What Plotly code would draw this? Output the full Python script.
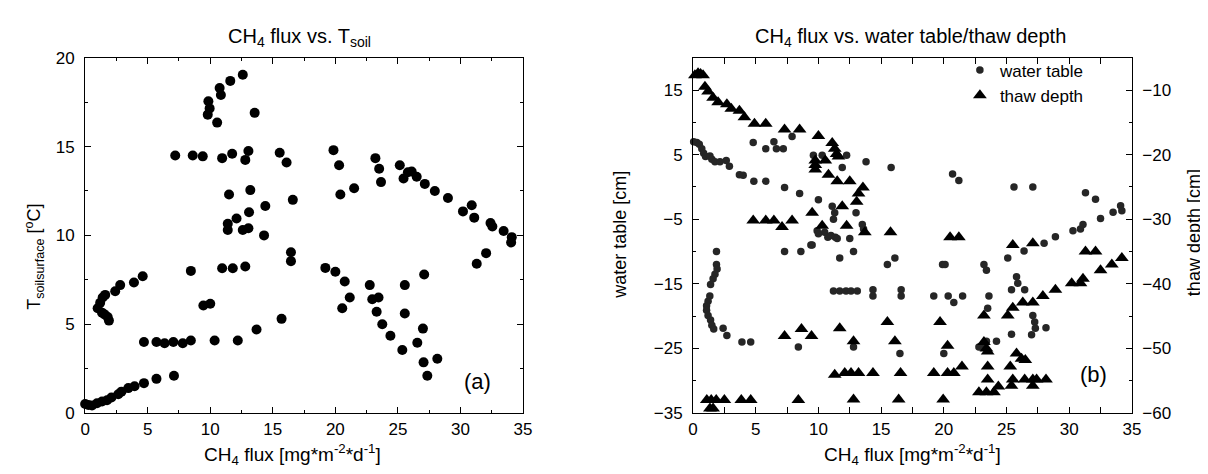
import plotly.graph_objects as go

# ---------------- Panel (a): CH4 flux vs. T_soil ----------------
soil_flux = [0.0, 0.25, 0.55, 0.95, 1.35, 1.75, 2.1, 2.65, 2.9, 3.45, 3.95, 4.7, 5.7, 7.1,
             1.0, 1.2, 1.4, 1.6, 1.35, 1.55, 1.8, 1.9, 2.4, 2.8, 3.9, 4.6,
             4.7, 5.7, 6.35, 7.05, 7.8, 8.45, 10.35, 12.2, 13.7, 15.7, 9.45, 10.0,
             8.45, 10.95, 11.8, 12.8, 16.45, 16.45, 19.2, 20.0, 20.75, 21.15, 20.55,
             22.75, 22.95, 23.45, 23.3, 23.75, 24.4, 25.55, 25.55, 25.35, 27.1, 27.0,
             26.55, 27.05, 27.35, 28.15,
             11.5, 13.2, 16.6, 14.4, 13.1, 12.1, 11.4, 11.4, 12.6, 13.05, 14.3,
             7.2, 8.6, 9.4, 10.95, 11.75, 12.8, 13.05, 15.55, 16.1, 19.85, 20.3, 20.4,
             21.5, 23.2, 23.5, 23.65, 25.15, 25.45, 25.8, 26.1, 26.5, 27.15, 27.95,
             29.0, 30.2, 30.9, 31.1, 32.4, 32.55, 33.45, 34.1, 34.05, 32.05, 31.3,
             9.85, 9.95, 9.8, 10.55, 10.75, 10.85, 11.6, 12.6, 13.55]
soil_temp = [0.5, 0.45, 0.42, 0.55, 0.65, 0.72, 0.87, 1.05, 1.2, 1.4, 1.5, 1.68, 1.92, 2.1,
             5.9, 6.2, 6.5, 6.65, 5.65, 5.55, 5.4, 5.2, 6.85, 7.2, 7.35, 7.7,
             4.0, 4.0, 3.93, 4.0, 3.93, 4.08, 4.08, 4.08, 4.7, 5.3, 6.05, 6.15,
             8.0, 8.15, 8.15, 8.25, 9.05, 8.55, 8.17, 7.95, 7.4, 6.5, 5.9,
             7.2, 6.4, 6.5, 5.7, 5.0, 4.35, 7.2, 5.6, 3.55, 7.8, 4.75,
             3.95, 2.85, 2.1, 3.05,
             12.3, 12.55, 12.0, 11.65, 11.3, 10.95, 10.65, 10.3, 10.3, 10.4, 10.0,
             14.5, 14.5, 14.45, 14.35, 14.6, 14.25, 14.75, 14.65, 14.1, 14.8, 13.95, 12.3,
             12.65, 14.35, 13.75, 13.0, 13.95, 13.2, 13.55, 13.6, 13.3, 12.9, 12.5,
             12.1, 11.35, 11.7, 11.0, 10.7, 10.5, 10.25, 9.9, 9.6, 9.0, 8.4,
             17.55, 17.15, 16.8, 16.35, 18.3, 17.9, 18.7, 19.05, 16.9]

# ---------------- Panel (b): water table ----------------
wt_flux = [0.05, 0.3, 0.5, 0.7, 0.85, 1.0, 1.35, 1.5, 1.75, 2.15, 2.65, 2.9, 3.7, 4.0,
           4.85, 5.8, 7.3, 8.5, 10.0, 11.1, 11.3, 11.2,
           4.8, 5.8, 6.45, 6.65, 7.2, 7.9, 9.6, 10.3, 11.9, 12.25, 13.8, 15.8,
           20.7, 21.2, 25.6, 27.1, 31.3, 32.1, 32.5, 33.5, 34.1, 34.2, 30.3, 30.9,
           31.1, 28.9, 28.0, 26.4, 25.1,
           13.0, 13.5, 13.6, 9.9, 10.5, 10.75, 11.0, 11.35, 11.5, 12.5, 9.5, 10.0,
           7.3, 8.6, 9.4, 11.7, 12.8, 15.5, 16.1, 19.9, 20.1, 23.2, 23.4,
           11.2, 11.7, 12.2, 12.6, 13.1, 14.35, 14.35, 16.6, 16.6, 19.2, 20.35, 20.8,
           21.5, 23.6, 23.5, 25.4, 25.8, 25.9, 26.45, 27.1, 27.25, 27.3, 27.0, 25.4,
           28.15, 23.4, 24.2, 23.0, 20.0, 22.8, 12.8, 16.5,
           1.87, 1.87, 1.92, 1.75, 1.6, 1.4, 1.34, 1.2, 1.08, 1.08, 1.2, 1.4, 1.5,
           1.65, 2.4, 2.7, 3.9, 4.6, 8.4]
wt_depth = [7.0, 6.9, 6.6, 5.9, 5.2, 4.7, 4.8, 4.3, 3.9, 3.9, 4.1, 3.2, 1.9, 1.8,
            0.9, 0.9, -0.1, -1.0, -2.0, -3.0, -4.0, -5.0,
            6.9, 5.9, 7.0, 5.9, 5.9, 7.8, 4.9, 4.9, 3.0, 4.9, 3.9, 3.0,
            2.0, 1.0, 0.0, 0.0, -0.9, -1.9, -4.9, -3.9, -2.9, -3.7, -6.8, -6.5,
            -5.8, -7.7, -8.7, -9.9, -11.0,
            -4.0, -5.8, -6.5, -6.8, -7.0, -7.8, -7.5, -7.8, -8.0, -8.0, -9.0, -7.25,
            -10.0, -10.0, -9.0, -11.0, -10.0, -12.0, -11.0, -12.0, -12.0, -12.0, -12.9,
            -16.1, -16.1, -16.1, -16.1, -16.1, -15.9, -16.9, -15.9, -16.9, -16.9, -16.9, -17.9,
            -16.9, -16.9, -18.8, -15.9, -13.9, -14.9, -15.9, -19.9, -20.9, -21.9, -22.9, -22.8,
            -21.8, -23.9, -23.9, -24.8, -25.8, -24.8, -24.8, -25.8,
            -10.0, -12.0, -12.7, -13.5, -14.2, -15.1, -16.9, -17.7, -18.4, -19.1, -19.9, -20.6, -21.4,
            -22.0, -21.9, -23.0, -24.0, -24.0, -24.8]

# ---------------- Panel (b): thaw depth ----------------
thaw_flux = [0.15, 0.4, 0.6, 0.8, 0.95, 1.2, 1.6, 2.0, 2.7, 3.05, 3.7, 4.1, 4.9, 5.8,
             7.3, 8.5, 10.0, 11.1, 11.3, 11.45, 11.6, 9.75, 9.75, 9.75, 10.55, 10.8,
             11.5, 12.5, 13.55, 13.2, 13.05,
             4.8, 5.8, 6.45, 7.1, 7.9, 9.5, 10.3, 11.9, 12.25, 13.7, 15.75, 20.5, 21.2,
             25.5, 27.1, 31.3, 32.1, 32.5, 33.4, 34.2, 31.1, 30.2, 30.9, 28.9, 27.9,
             27.1, 26.3, 25.5, 25.1, 23.2, 19.7, 15.5, 11.7, 7.3, 8.65, 9.45, 12.8,
             16.1, 20.3, 23.2, 23.4, 23.5, 25.8, 26.2, 26.5, 21.45, 23.5, 25.3,
             11.3, 12.1, 12.6, 13.2, 14.35, 16.55, 19.2, 20.3, 20.8,
             23.5, 25.5, 26.45, 27.1, 27.4, 28.15, 25.4, 27.1, 24.35, 22.8, 23.4, 24.0,
             1.1, 1.45, 1.85, 2.5, 3.85, 4.6, 8.4, 12.8, 16.4, 19.95, 1.35, 1.6]
thaw_depth = [-7.7, -7.4, -7.5, -7.7, -9.5, -10.2, -11.2, -11.9, -12.2, -12.9, -13.2, -14.2, -15.2, -15.2,
              -16.1, -16.1, -17.1, -18.2, -19.1, -19.9, -20.3, -20.9, -21.6, -22.3, -20.9, -23.1,
              -24.1, -24.1, -25.1, -26.0, -27.3,
              -30.2, -30.2, -30.2, -31.2, -30.2, -29.0, -31.0, -28.0, -31.0, -32.0, -32.0, -32.8, -32.8,
              -34.0, -33.7, -35.0, -35.0, -37.9, -37.0, -36.0, -39.2, -39.9, -39.9, -40.9, -41.9,
              -42.9, -42.9, -43.7, -44.9, -44.9, -45.9, -45.9, -46.9, -48.1, -47.0, -48.1, -48.9,
              -48.9, -49.6, -49.0, -50.0, -50.5, -50.8, -51.6, -51.8, -52.8, -52.8, -52.8,
              -54.1, -53.8, -53.8, -53.8, -53.8, -53.8, -53.8, -53.8, -53.8,
              -54.8, -54.8, -54.8, -54.8, -54.8, -54.8, -55.8, -55.8, -55.9, -56.8, -56.8, -56.8,
              -58.0, -58.0, -58.0, -58.0, -58.0, -58.0, -58.0, -57.9, -57.9, -57.9, -59.3, -59.3]

FONT = "Liberation Sans, Arial, Helvetica, sans-serif"

fig = go.Figure()
fig.add_trace(go.Scatter(x=soil_flux, y=soil_temp, mode="markers", xaxis="x", yaxis="y",
                         marker=dict(symbol="circle", size=10, color="black"),
                         showlegend=False, cliponaxis=False))
fig.add_trace(go.Scatter(x=wt_flux, y=wt_depth, mode="markers", xaxis="x2", yaxis="y2",
                         name="water table",
                         marker=dict(symbol="circle", size=7.5, color="#262626"),
                         showlegend=True, cliponaxis=False))
fig.add_trace(go.Scatter(x=thaw_flux, y=thaw_depth, mode="markers", xaxis="x2", yaxis="y3",
                         name="thaw depth",
                         marker=dict(symbol="triangle-up", size=12, color="black"),
                         showlegend=True, cliponaxis=False))

ydom = [1 - 412.5 / 474, 1 - 42.5 / 474]
xdom1 = [73 / 1208, 516 / 1208]
xdom2 = [688 / 1208, 1132 / 1208]

common = dict(showline=True, linecolor="black", linewidth=1, ticks="inside",
              ticklen=6, tickwidth=1, tickcolor="black", showgrid=False, zeroline=False,
              tickfont=dict(family=FONT, size=17, color="black"))
minor_x = dict(ticks="inside", ticklen=3, tickcolor="black", dtick=2.5, showgrid=False)

fig.update_layout(
    width=1208, height=474,
    margin=dict(l=0, r=0, t=0, b=0),
    paper_bgcolor="white", plot_bgcolor="white",
    font=dict(family=FONT, color="black"),
    xaxis=dict(domain=xdom1, range=[0, 35], dtick=5, tick0=0, mirror="allticks",
               anchor="y", minor=minor_x, ticklabelstandoff=1, **common),
    yaxis=dict(domain=ydom, range=[0, 20], dtick=5, tick0=0, mirror="allticks",
               anchor="x", minor=dict(ticks="inside", ticklen=3, tickcolor="black", dtick=2.5),
               ticklabelstandoff=6, **common),
    xaxis2=dict(domain=xdom2, range=[0, 35], dtick=5, tick0=0, mirror="allticks",
                anchor="y2", minor=minor_x, ticklabelstandoff=1, **common),
    yaxis2=dict(domain=ydom, range=[-35, 20], dtick=10, tick0=-35, mirror=False,
                anchor="x2", minor=dict(ticks="inside", ticklen=3, tickcolor="black", dtick=5, tick0=-35),
                ticklabelstandoff=6, **common),
    yaxis3=dict(domain=ydom, range=[-60, -5], dtick=10, tick0=-60, overlaying="y2",
                side="right", anchor="x2",
                minor=dict(ticks="inside", ticklen=3, tickcolor="black", dtick=5, tick0=-60),
                ticklabelstandoff=6, **common),
    legend=dict(x=958 / 1208, y=1 - 37 / 474, xanchor="left", yanchor="top",
                bgcolor="rgba(0,0,0,0)", font=dict(family=FONT, size=17, color="black"),
                itemwidth=30, tracegroupgap=0),
)

ann = [
    dict(text="CH<sub>4</sub> flux vs. T<sub>soil</sub>", x=290 / 1208, y=1 - 21 / 474,
         font=dict(size=20)),
    dict(text="CH<sub>4</sub> flux vs. water table/thaw depth", x=908 / 1208, y=1 - 21 / 474,
         font=dict(size=20)),
    dict(text="CH<sub>4</sub> flux [mg*m<sup>-2</sup>*d<sup>-1</sup>]", x=283 / 1208,
         y=1 - 456 / 474, font=dict(size=19)),
    dict(text="CH<sub>4</sub> flux [mg*m<sup>-2</sup>*d<sup>-1</sup>]", x=910 / 1208,
         y=1 - 456 / 474, font=dict(size=19)),
    dict(text="T<sub>soilsurface</sub> [<sup>o</sup>C]", x=22 / 1208, y=1 - 250 / 474,
         textangle=-90, font=dict(size=18)),
    dict(text="water table [cm]", x=614 / 1208, y=1 - 227 / 474,
         textangle=-90, font=dict(size=18)),
    dict(text="thaw depth [cm]", x=1195 / 1208, y=1 - 225 / 474,
         textangle=-90, font=dict(size=18)),
    dict(text="(a)", x=470 / 1208, y=1 - 380 / 474, font=dict(size=22)),
    dict(text="(b)", x=1093 / 1208, y=1 - 372 / 474, font=dict(size=22)),
]
for a in ann:
    a.update(xref="paper", yref="paper", showarrow=False, xanchor="center", yanchor="middle")
    a["font"].update(family=FONT, color="black")
fig.update_layout(annotations=ann)

fig.write_html("out.html")
